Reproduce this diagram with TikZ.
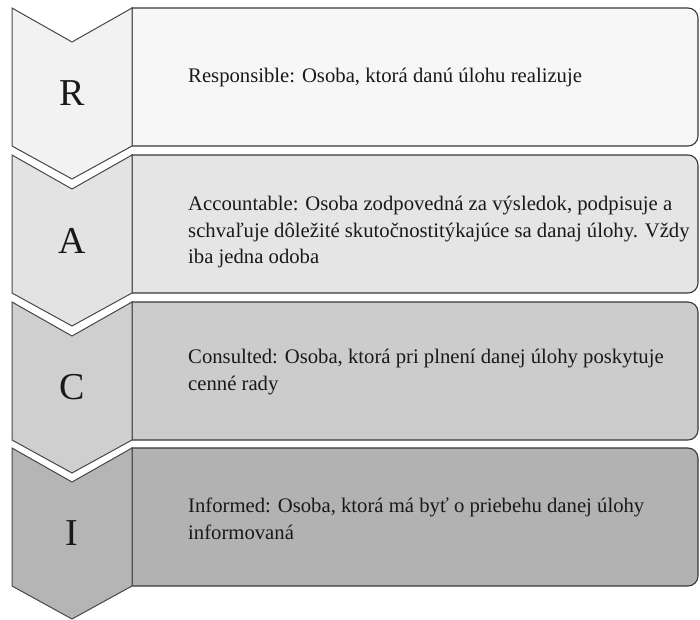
\documentclass[tikz,border=0pt]{standalone}
\usepackage{fontspec}
\setmainfont{Liberation Serif}
\begin{document}
\begin{tikzpicture}[x=1pt,y=-1pt,
  chev/.style={draw=black!72,line width=1pt,line join=miter},
  band/.style={draw=black!78,line width=1.1pt},
  letter/.style={font=\fontsize{38}{40}\selectfont,text=black!90},
  desc/.style={anchor=west,align=left,inner sep=0pt,text=black!90,font=\fontsize{20.7}{26.5}\selectfont}]
\useasboundingbox (0,0) rectangle (700,619);
\colorlet{cR}{black!3}\colorlet{cRc}{black!5}
\colorlet{cA}{black!10}\colorlet{cAc}{black!11}
\colorlet{cC}{black!20}\colorlet{cCc}{black!19}
\colorlet{cI}{black!30}\colorlet{cIc}{black!29}
\foreach \t/\col/\ccol/\L/\nm in {8/cR/cRc/R/r,155/cA/cAc/A/a,302/cC/cCc/C/c,448/cI/cIc/I/i}{
  \pgfmathsetmacro{\b}{\t+138}
  \pgfmathsetmacro{\n}{\t+34}
  \pgfmathsetmacro{\p}{\b+33}
  \pgfmathsetmacro{\m}{(\t+\p)/2}
  \draw[band,fill=\col] (132,\t) -- (688,\t) arc[start angle=-90,end angle=0,radius=10]
     -- (698,\b-10) arc[start angle=0,end angle=90,radius=10] -- (132,\b) -- cycle;
  \draw[chev,fill=\ccol] (12,\t) -- (72,\n) -- (132,\t) -- (132,\b) -- (72,\p) -- (12,\b) -- cycle;
  \node[letter] (L\nm) at (72,\m) {\L};
}
\node[desc] (tr) at (188,78) {Responsible: Osoba, ktorá danú úlohu realizuje};
\node[desc] (ta) at (188,232) {Accountable: Osoba zodpovedná za výsledok, podpisuje a\\schvaľuje dôležité skutočnostitýkajúce sa danaj úlohy. Vždy\\iba jedna odoba};
\node[desc] (tc) at (188,372) {Consulted: Osoba, ktorá pri plnení danej úlohy poskytuje\\cenné rady};
\node[desc] (ti) at (188,519) {Informed: Osoba, ktorá má byť o priebehu danej úlohy\\informovaná};
\end{tikzpicture}
\end{document}
